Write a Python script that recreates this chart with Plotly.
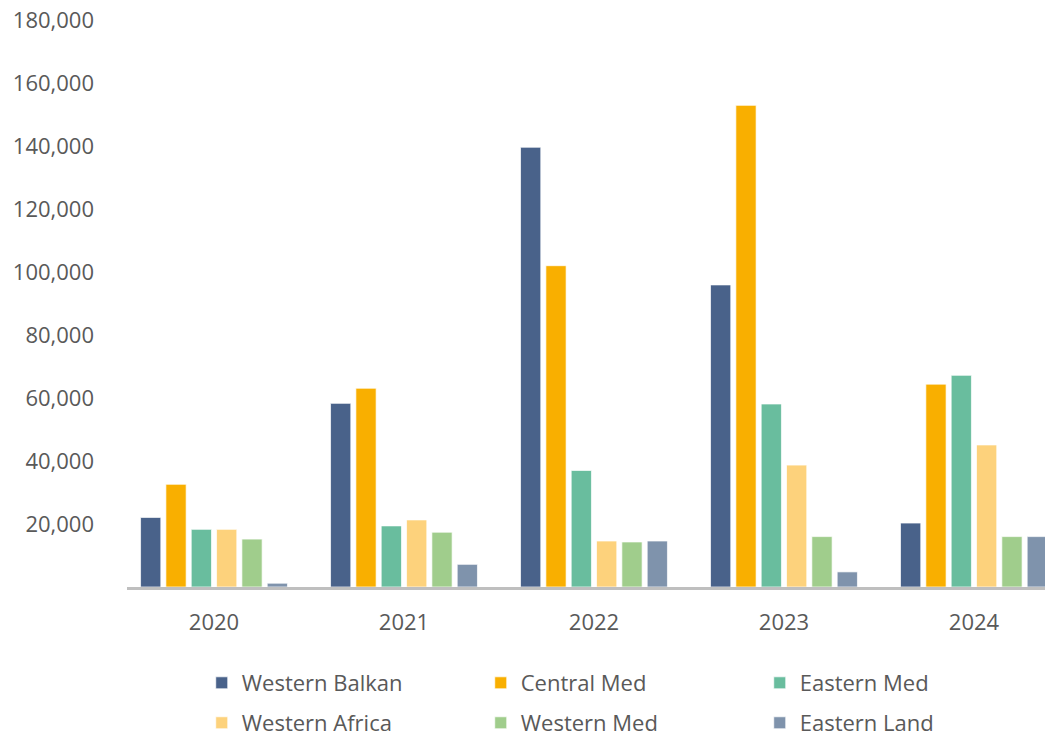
import plotly.graph_objects as go

years = ["2020", "2021", "2022", "2023", "2024"]
western_balkan = [22100, 58300, 139600, 95900, 20300]
central_med = [32600, 63100, 102000, 152900, 64400]
eastern_med = [18300, 19400, 37000, 58100, 67200]
western_africa = [18300, 21300, 14600, 38700, 45100]
western_med = [15200, 17400, 14300, 16000, 16000]
eastern_land = [1200, 7200, 14600, 4800, 16000]

y_ticks = [20000, 40000, 60000, 80000, 100000, 120000, 140000, 160000, 180000]

series = [
    ("Western Balkan", western_balkan, "#49628A", "legend"),
    ("Central Med", central_med, "#F9AF00", "legend"),
    ("Eastern Med", eastern_med, "#69BD9E", "legend"),
    ("Western Africa", western_africa, "#FDD27C", "legend2"),
    ("Western Med", western_med, "#A0CD8C", "legend2"),
    ("Eastern Land", eastern_land, "#7F93AC", "legend2"),
]

FONT = "Open Sans"
TXT = "#595959"

fig = go.Figure()
for name, vals, color, lg in series:
    fig.add_trace(go.Bar(
        x=years, y=vals, name=name, legend=lg,
        marker=dict(color=color, line=dict(color="rgba(255,255,255,0.7)", width=1)),
    ))

legend_common = dict(
    orientation="h",
    xref="container", yref="container",
    x=0.1854, xanchor="left", yanchor="middle",
    entrywidth=234, entrywidthmode="pixels",
    font=dict(family=FONT, size=22, color=TXT),
    bgcolor="rgba(0,0,0,0)", borderwidth=0,
    traceorder="normal",
)

fig.update_layout(
    width=1045, height=728,
    margin=dict(l=119, r=0, t=12, b=149, autoexpand=False),
    paper_bgcolor="white", plot_bgcolor="white",
    barmode="group", bargap=0.2, bargroupgap=0.2,
    font=dict(family=FONT, color=TXT),
    legend=dict(legend_common, y=0.0728),
    legend2=dict(legend_common, y=0.0179),
    showlegend=True,
)
fig.update_xaxes(
    type="category", range=[-0.458, 4.416],
    showline=True, linecolor="#BFBFBF", linewidth=3,
    showgrid=False, ticks="", ticklabelstandoff=14,
    tickfont=dict(family=FONT, size=22, color=TXT),
    automargin=False,
)
fig.update_yaxes(
    range=[0, 180000], tickvals=y_ticks, tickformat=",",
    showgrid=False, zeroline=False, showline=False, ticks="",
    ticklabelstandoff=32, ticklabeloverflow="allow",
    tickfont=dict(family=FONT, size=22, color=TXT),
    automargin=False,
)

fig.write_html("out.html")
